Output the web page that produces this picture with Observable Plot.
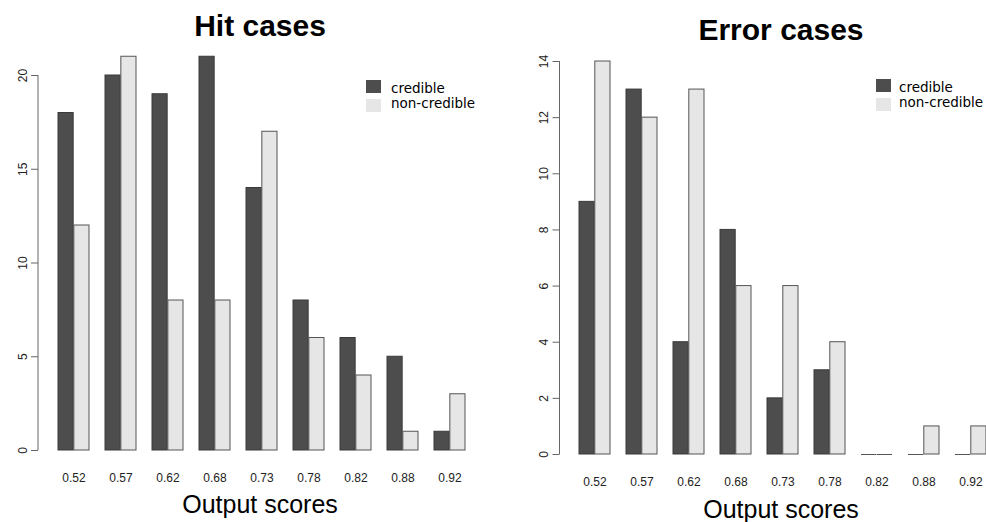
<!DOCTYPE html>
<html><head><meta charset="utf-8">
<script src="https://cdn.jsdelivr.net/npm/d3@7"></script>
<script src="https://cdn.jsdelivr.net/npm/@observablehq/plot@0.6"></script>
<style>
body{margin:0;background:#fff;}
#wrap{position:relative;width:986px;height:522px;overflow:hidden;background:#fff;}
.panel{position:absolute;top:0;width:493px;height:522px;}
.panel svg{position:absolute;left:0;top:0;}
.title{position:absolute;font:bold 30px "Liberation Sans",Arial,sans-serif;line-height:30px;white-space:nowrap;transform:translateX(-50%);color:#000;}
.xlab{position:absolute;font:25px "Liberation Sans",Arial,sans-serif;line-height:25px;white-space:nowrap;transform:translateX(-50%);color:#000;}
.leg{position:absolute;font:13.5px "DejaVu Sans",sans-serif;line-height:13.5px;white-space:nowrap;color:#000;}
.sw{position:absolute;width:15px;height:13px;}
</style>
</head><body>
<div id="wrap"></div>
<script>
const scores = ["0.52","0.57","0.62","0.68","0.73","0.78","0.82","0.88","0.92"];
const seriesNames = ["credible","non-credible"];
const seriesColors = ["#4d4d4d","#e6e6e6"];
const hitCredible    = [18,20,19,21,14,8,6,5,1];
const hitNonCredible = [12,21,8,8,17,6,4,1,3];
const errCredible    = [9,13,4,8,2,3,0,0,0];
const errNonCredible = [14,12,13,6,6,4,0,1,1];
const hitTicks = [0,5,10,15,20];
const errTicks = [0,2,4,6,8,10,12,14];

const panels = [
  {left:0, title:"Hit cases", credible:hitCredible, non:hitNonCredible, ticks:hitTicks, ymax:21,
   ml:38, mr:27.4, mt:56.25, mb:72, titleX:260, titleTop:10.6, xlabX:260, xlabTop:492,
   legX:366, legY:80, legTextX:391},
  {left:493, title:"Error cases", credible:errCredible, non:errNonCredible, ticks:errTicks, ymax:14,
   ml:66.5, mr:0, mt:61, mb:68, titleX:288, titleTop:15.3, xlabX:288, xlabTop:497,
   legX:383, legY:79, legTextX:406}
];

const wrap = document.getElementById("wrap");
const W = 493, H = 522;

for (const p of panels) {
  const div = document.createElement("div");
  div.className = "panel";
  div.style.left = p.left + "px";
  wrap.appendChild(div);

  const rows = [];
  scores.forEach((s, i) => {
    rows.push({score: s, series: seriesNames[0], value: p.credible[i]});
    rows.push({score: s, series: seriesNames[1], value: p.non[i]});
  });
  const u = (W - p.ml - p.mr) / 27;
  const cred = rows.filter(d => d.series === seriesNames[0]);
  const non = rows.filter(d => d.series === seriesNames[1]);

  const chart = Plot.plot({
    width: W, height: H,
    marginLeft: p.ml, marginRight: p.mr, marginTop: p.mt, marginBottom: p.mb,
    style: {fontFamily: "'Liberation Sans', Arial, sans-serif", fontSize: "12px", background: "transparent", overflow: "visible"},
    x: {type: "band", domain: scores, paddingInner: 1/3, paddingOuter: 1/6, align: 1, label: null},
    y: {domain: [0, p.ymax], label: null},
    color: {domain: seriesNames, range: seriesColors},
    marks: [
      Plot.barY(cred.filter(d => d.value > 0), {x: "score", y: "value", fill: "series", stroke: "#3a3a3a", strokeWidth: 1, insetRight: u}),
      Plot.barY(non.filter(d => d.value > 0), {x: "score", y: "value", fill: "series", stroke: "#555", strokeWidth: 1, insetLeft: u}),
      Plot.tickY(cred.filter(d => d.value === 0), {x: "score", y: "value", stroke: "#555", strokeWidth: 1, insetRight: u}),
      Plot.tickY(non.filter(d => d.value === 0), {x: "score", y: "value", stroke: "#555", strokeWidth: 1, insetLeft: u}),
      Plot.axisX({tickSize: 0, tickPadding: 23, fontSize: 12, label: null, fill: "#222"}),
      Plot.axisY({ticks: p.ticks, tickSize: 7, tickRotate: -90, tickPadding: 5, fontSize: 12, label: null, stroke: "#666", fill: "#222"})
    ]
  });
  const ys = chart.scale("y");
  d3.select(chart).append("line")
    .attr("x1", p.ml).attr("x2", p.ml)
    .attr("y1", ys.apply(0)).attr("y2", ys.apply(p.ticks[p.ticks.length - 1]))
    .attr("stroke", "#666").attr("stroke-width", 1);
  div.appendChild(chart);

  const t = document.createElement("div");
  t.className = "title"; t.textContent = p.title;
  t.style.left = p.titleX + "px"; t.style.top = p.titleTop + "px";
  div.appendChild(t);

  const xl = document.createElement("div");
  xl.className = "xlab"; xl.textContent = "Output scores";
  xl.style.left = p.xlabX + "px"; xl.style.top = p.xlabTop + "px";
  div.appendChild(xl);

  seriesNames.forEach((name, k) => {
    const sw = document.createElement("div");
    sw.className = "sw";
    sw.style.background = seriesColors[k];
    sw.style.left = p.legX + "px";
    sw.style.top = (p.legY + k * 18.5) + "px";
    div.appendChild(sw);
    const lt = document.createElement("div");
    lt.className = "leg"; lt.textContent = name;
    lt.style.left = p.legTextX + "px";
    lt.style.top = (p.legY + 1.5 + k * 15) + "px";
    div.appendChild(lt);
  });
}
</script>
</body></html>
